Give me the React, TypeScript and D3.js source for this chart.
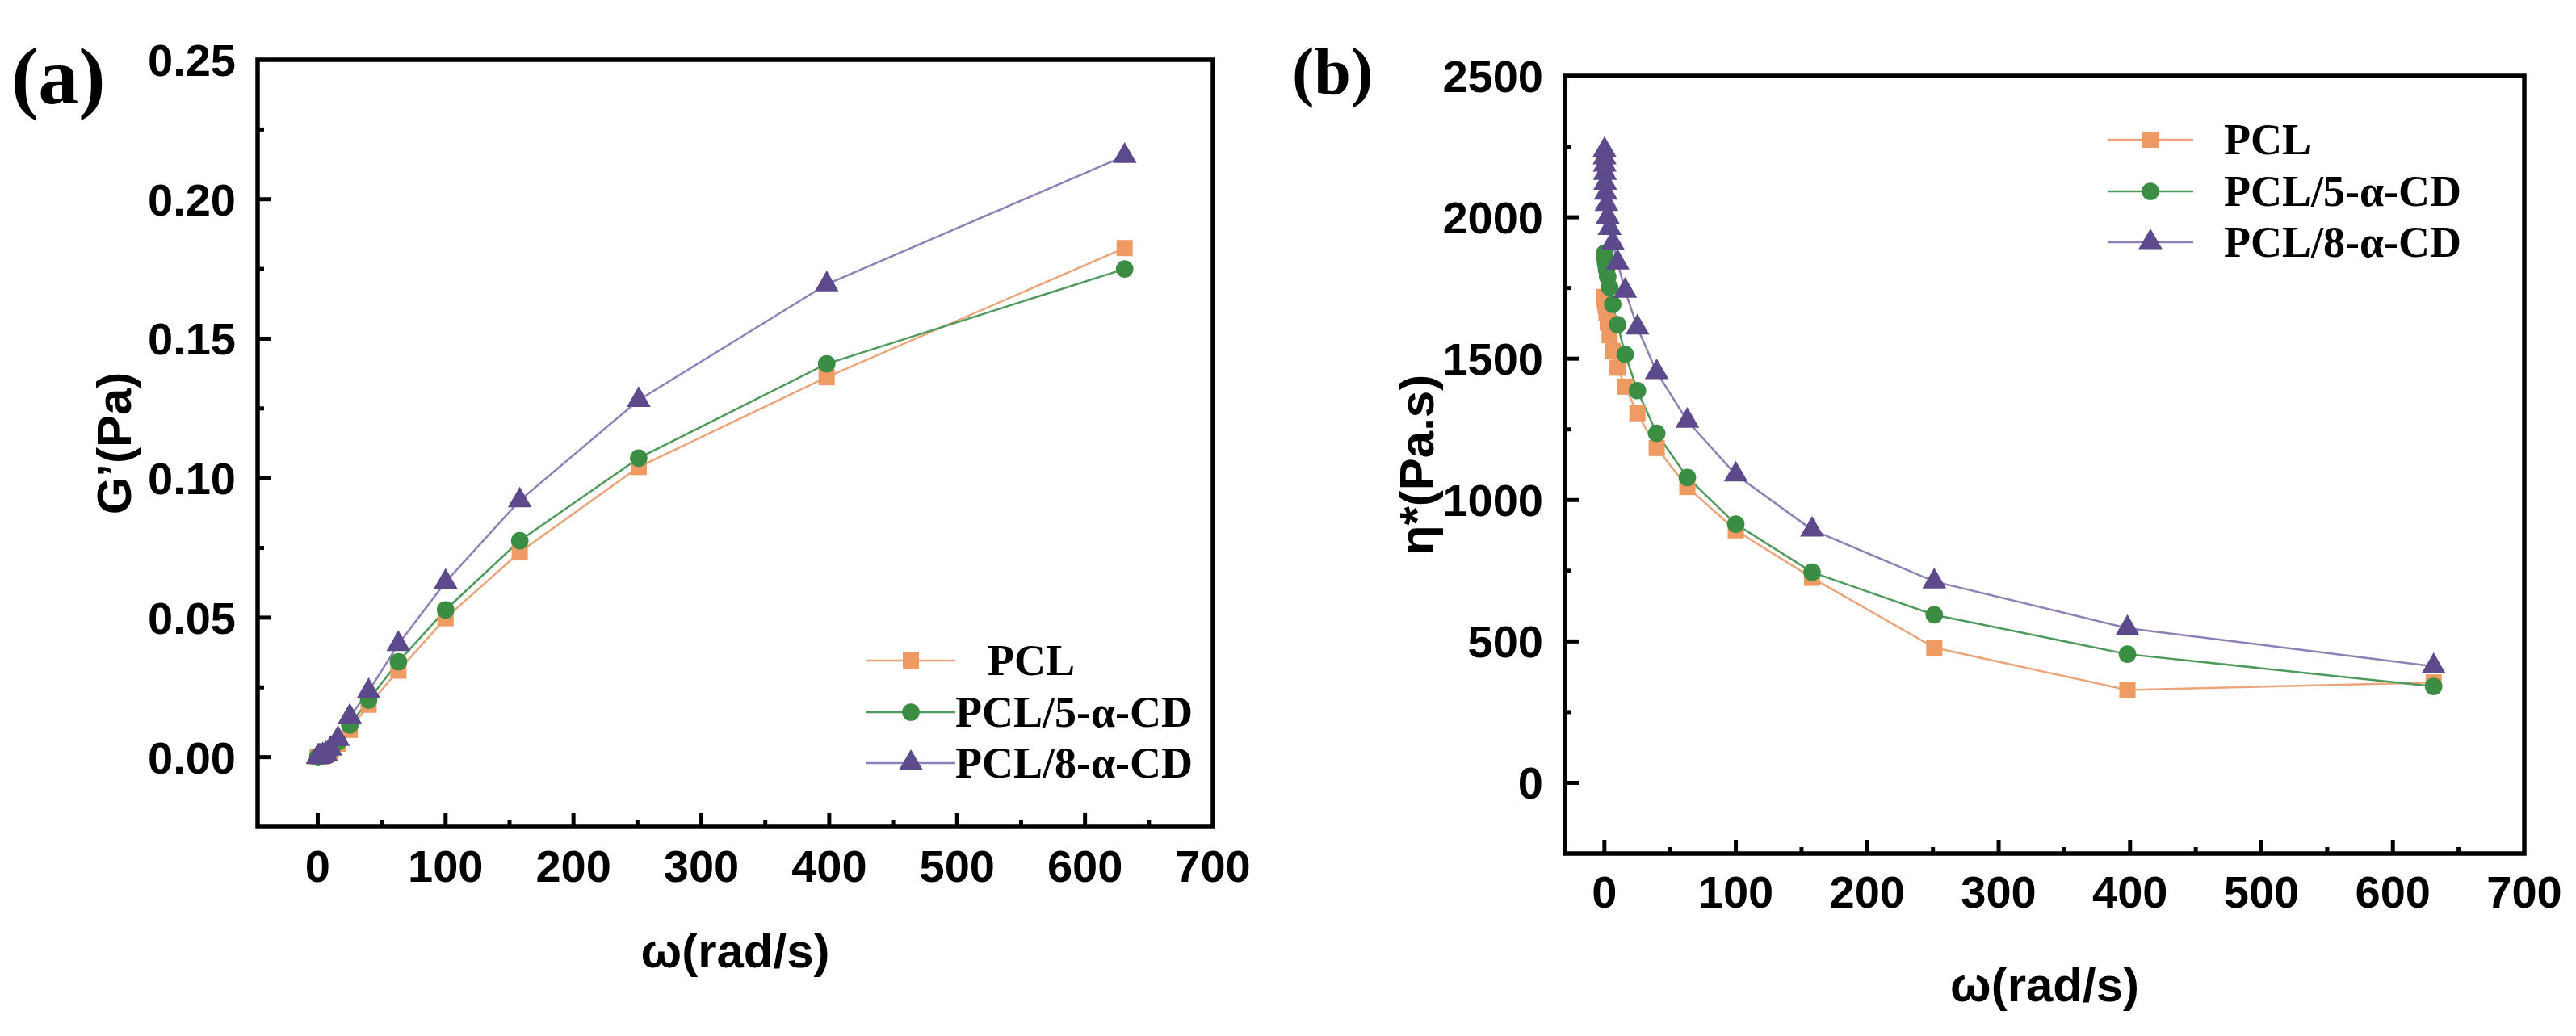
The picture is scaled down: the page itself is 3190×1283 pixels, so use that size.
import React, { useEffect, useRef } from 'react';
import * as d3 from 'd3';

// angular frequency sweep (rad/s)
const omega = [0.1, 0.158, 0.251, 0.398, 0.631, 1, 1.58, 2.51, 3.98, 6.31, 10, 15.8, 25.1, 39.8, 63.1, 100, 158, 251, 398, 631];

// (a) storage modulus G'
const gPcl = [0.00001, 0.00002, 0.00003, 0.00004, 0.00006, 0.0001, 0.00016, 0.00026, 0.00045, 0.0008, 0.0021, 0.0048, 0.0098, 0.0188, 0.031, 0.0498, 0.0735, 0.104, 0.1362, 0.1825];
const gCd5 = [0.00001, 0.00002, 0.00003, 0.00005, 0.00007, 0.00011, 0.00018, 0.0003, 0.0005, 0.0009, 0.0025, 0.0055, 0.0115, 0.0205, 0.0342, 0.0528, 0.0776, 0.1072, 0.141, 0.175];
const gCd8 = [0.00001, 0.00002, 0.00004, 0.00006, 0.00009, 0.00014, 0.00023, 0.00038, 0.00065, 0.0012, 0.003, 0.0065, 0.0145, 0.0236, 0.0405, 0.0628, 0.092, 0.128, 0.1695, 0.2155];

// (b) complex viscosity eta*
const etaPcl = [1718, 1716, 1713, 1708, 1700, 1686, 1662, 1628, 1583, 1527, 1468, 1401, 1307, 1184, 1046, 893, 725, 478, 328, 355];
const etaCd5 = [1873, 1870, 1866, 1860, 1850, 1836, 1816, 1790, 1752, 1692, 1620, 1515, 1387, 1236, 1080, 915, 745, 594, 455, 341];
const etaCd8 = [2238, 2212, 2186, 2157, 2122, 2087, 2047, 2002, 1962, 1910, 1840, 1740, 1610, 1452, 1280, 1090, 895, 712, 547, 412];

const seriesNames = ['PCL', 'PCL/5-α-CD', 'PCL/8-α-CD'];
const lineColors = ['#eaa57a', '#4e9a5c', '#8e7fb6'];
const markerColors = ['#ef9a62', '#3a8d42', '#5c4a8c'];
const markerShapes = [d3.symbolSquare, d3.symbolCircle, d3.symbolTriangle];
const markerSizes = [400, 370, 380];

const xTicks = [0, 100, 200, 300, 400, 500, 600, 700];
const gTicks = [0, 0.05, 0.1, 0.15, 0.2, 0.25];
const etaTicks = [0, 500, 1000, 1500, 2000, 2500];

const W = 3190;
const H = 1283;
const SANS = "'Liberation Sans', Arial, sans-serif";
const SERIF = "'Liberation Serif', 'Times New Roman', serif";

interface Panel {
  box: { left: number; top: number; right: number; bottom: number };
  xDomain: [number, number];
  yDomain: [number, number];
  yTicks: number[];
  yMinorStep: number;
  yFormat: (v: number) => string;
  series: number[][];
  yTitle: string;
  yTitleX: number;
  xLabelY: number;
  xTitleY: number;
  tag: string;
  tagX: number;
  tagY: number;
  tagSize: number;
  legend: { x0: number; x1: number; textX: number[]; rows: number[] };
}

type Sel = d3.Selection<SVGSVGElement, unknown, null, undefined>;

function drawPanel(svg: Sel, p: Panel) {
  const { left, top, right, bottom } = p.box;
  const x = d3.scaleLinear().domain(p.xDomain).range([left, right]);
  const y = d3.scaleLinear().domain(p.yDomain).range([bottom, top]);
  const g = svg.append('g');

  // ticks (inward)
  const xMinor = d3.range(0, p.xDomain[1] + 1, 50).filter(v => v > p.xDomain[0] && v < p.xDomain[1]);
  xMinor.forEach(v => {
    const major = v % 100 === 0;
    g.append('line')
      .attr('x1', x(v)).attr('x2', x(v))
      .attr('y1', bottom).attr('y2', bottom - (major ? 17 : 8))
      .attr('stroke', '#000').attr('stroke-width', 5);
  });
  const yMinor = d3.range(0, p.yDomain[1] + p.yMinorStep / 2, p.yMinorStep).filter(v => v > p.yDomain[0] && v < p.yDomain[1] - 1e-9);
  yMinor.forEach((v, i) => {
    const major = i % 2 === 0;
    g.append('line')
      .attr('x1', left).attr('x2', left + (major ? 17 : 8))
      .attr('y1', y(v)).attr('y2', y(v))
      .attr('stroke', '#000').attr('stroke-width', 5);
  });

  g.append('rect')
    .attr('x', left).attr('y', top)
    .attr('width', right - left).attr('height', bottom - top)
    .attr('fill', 'none').attr('stroke', '#000').attr('stroke-width', 5.5);

  // tick labels
  g.selectAll('text.xl').data(xTicks).enter().append('text')
    .attr('class', 'xl')
    .attr('x', d => x(d)).attr('y', p.xLabelY)
    .attr('text-anchor', 'middle')
    .attr('font-family', SANS).attr('font-weight', 'bold').attr('font-size', 56)
    .text(d => String(d));
  g.selectAll('text.yl').data(p.yTicks).enter().append('text')
    .attr('class', 'yl')
    .attr('x', left - 27).attr('y', d => y(d) + 20)
    .attr('text-anchor', 'end')
    .attr('font-family', SANS).attr('font-weight', 'bold').attr('font-size', 56)
    .text(d => p.yFormat(d));

  // axis titles
  g.append('text')
    .attr('x', (left + right) / 2).attr('y', p.xTitleY)
    .attr('text-anchor', 'middle')
    .attr('font-family', SANS).attr('font-weight', 'bold').attr('font-size', 60)
    .text('ω(rad/s)');
  g.append('text')
    .attr('transform', `translate(${p.yTitleX},${(top + bottom) / 2}) rotate(-90)`)
    .attr('text-anchor', 'middle')
    .attr('font-family', SANS).attr('font-weight', 'bold').attr('font-size', 60)
    .text(p.yTitle);

  g.append('text')
    .attr('x', p.tagX).attr('y', p.tagY)
    .attr('font-family', SERIF).attr('font-weight', 'bold').attr('font-size', p.tagSize)
    .text(p.tag);

  // series
  const line = d3.line<number>().x((_, i) => x(omega[i])).y(d => y(d));
  p.series.forEach((vals, s) => {
    g.append('path')
      .attr('d', line(vals) || '')
      .attr('fill', 'none').attr('stroke', lineColors[s]).attr('stroke-width', 2.5);
  });
  p.series.forEach((vals, s) => {
    const sym = d3.symbol().type(markerShapes[s]).size(markerSizes[s]);
    g.selectAll(`path.m${s}`).data(vals).enter().append('path')
      .attr('class', `m${s}`)
      .attr('d', sym() || '')
      .attr('transform', (d, i) => `translate(${x(omega[i])},${y(d)})`)
      .attr('fill', markerColors[s]);
  });

  // legend
  seriesNames.forEach((name, s) => {
    const ry = p.legend.rows[s];
    g.append('line')
      .attr('x1', p.legend.x0).attr('x2', p.legend.x1)
      .attr('y1', ry).attr('y2', ry)
      .attr('stroke', lineColors[s]).attr('stroke-width', 2.5);
    g.append('path')
      .attr('d', d3.symbol().type(markerShapes[s]).size(markerSizes[s])() || '')
      .attr('transform', `translate(${(p.legend.x0 + p.legend.x1) / 2},${ry})`)
      .attr('fill', markerColors[s]);
    g.append('text')
      .attr('x', p.legend.textX[s]).attr('y', ry + 18)
      .attr('font-family', SERIF).attr('font-weight', 'bold').attr('font-size', 54)
      .text(name);
  });
}

const App: React.FC = () => {
  const svgRef = useRef<SVGSVGElement>(null);

  useEffect(() => {
    if (!svgRef.current) return;
    const svg = d3.select(svgRef.current);
    svg.selectAll('*').remove();
    svg.append('rect').attr('width', W).attr('height', H).attr('fill', '#fff');

    drawPanel(svg, {
      box: { left: 319, top: 74, right: 1502, bottom: 1024 },
      xDomain: [-47, 700],
      yDomain: [-0.025, 0.25],
      yTicks: gTicks,
      yMinorStep: 0.025,
      yFormat: d3.format('.2f'),
      series: [gPcl, gCd5, gCd8],
      yTitle: 'G’(Pa)',
      yTitleX: 162,
      xLabelY: 1092,
      xTitleY: 1198,
      tag: '(a)',
      tagX: 14,
      tagY: 128,
      tagSize: 100,
      legend: { x0: 1073, x1: 1183, textX: [1223, 1183, 1183], rows: [818, 882, 945] },
    });

    drawPanel(svg, {
      box: { left: 1938, top: 94, right: 3126, bottom: 1057 },
      xDomain: [-30, 700],
      yDomain: [-250, 2500],
      yTicks: etaTicks,
      yMinorStep: 250,
      yFormat: d3.format('d'),
      series: [etaPcl, etaCd5, etaCd8],
      yTitle: 'η*(Pa.s)',
      yTitleX: 1775,
      xLabelY: 1124,
      xTitleY: 1240,
      tag: '(b)',
      tagX: 1600,
      tagY: 116,
      tagSize: 82,
      legend: { x0: 2610, x1: 2716, textX: [2754, 2754, 2754], rows: [173, 237, 300] },
    });
  }, []);

  return (
    <div style={{ position: 'absolute', left: 0, top: 0 }}>
      <svg ref={svgRef} width={W} height={H}></svg>
    </div>
  );
};

export default App;
